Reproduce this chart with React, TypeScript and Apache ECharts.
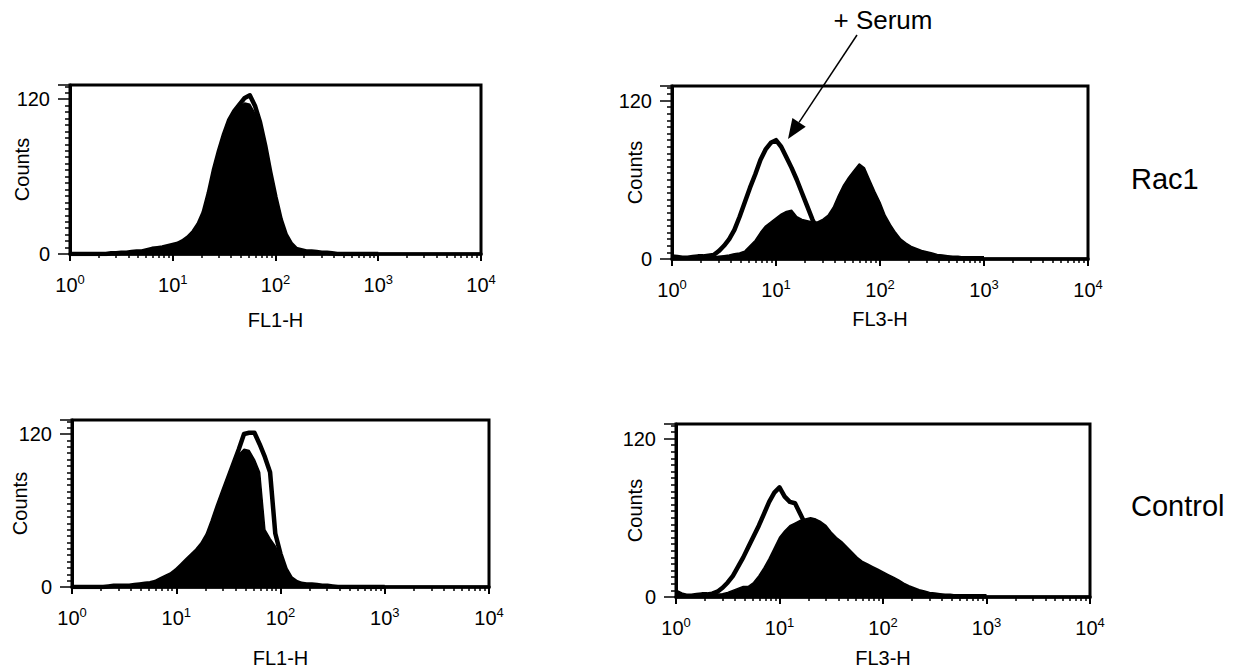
import React, { useEffect, useRef } from "react";
import * as echarts from "echarts";

// Histogram channel positions: log10 of fluorescence, 0.00 .. 3.00 in 0.05 steps
const channelLog: number[] = Array.from({ length: 61 }, (_, i) => Math.round(i * 5) / 100);

// Rac1, FL1-H
const rac1FL1Filled = [
  0, 0, 0, 0, 0, 0, 0, 0, 0.5, 0.5,
  1, 1, 1.5, 2, 2, 3, 4, 4.5, 5, 6,
  7, 8, 10, 13, 17, 23, 32, 47, 65, 80,
  93, 104, 110, 114, 117, 116, 109, 97, 80, 60,
  42, 26, 14, 8, 4, 3, 2, 2, 1.5, 1,
  1, 0.5, 0, 0, 0, 0, 0, 0, 0, 0, 0,
];
const rac1FL1Open = [
  0, 0, 0, 0, 0, 0, 0, 0, 0.5, 0.5,
  1, 1, 1.5, 2, 2, 3, 4, 4.5, 5, 6,
  7, 8, 10, 13, 17, 23, 32, 47, 65, 80,
  93, 104, 111, 116, 121, 123, 115, 102, 84, 63,
  44, 27, 15, 8, 4, 3, 2, 2, 1.5, 1,
  1, 0.5, 0, 0, 0, 0, 0, 0, 0, 0, 0,
];
// Rac1, FL3-H
const rac1FL3Filled = [
  1, 1, 0.5, 0.5, 1, 1, 1, 1.5, 1.5, 2,
  2.5, 3, 4, 4.5, 6, 10, 14, 20, 25, 28,
  31, 34, 36, 37, 32, 30, 29, 28, 28, 30,
  33, 39, 48, 56, 62, 67, 72, 69, 60, 51,
  43, 33, 26, 20, 15, 12, 9.5, 8, 6.5, 5.5,
  4.5, 3.5, 3, 2.5, 2, 2, 1.5, 1.5, 1, 1, 1,
];
const rac1FL3Open = [
  2, 1.5, 1, 1, 1.5, 2, 2, 2.5, 3, 6,
  10, 15, 22, 32, 43, 54, 64, 75, 83, 88,
  90, 85, 77, 69, 60, 50, 40, 30, 22, 16,
  11, 8, 6, 5, 4, 3.5, 3, 2.5, 2, 2,
  1.5, 1, 1, 1, 1, 1, 1, 1, 1, 1,
  1, 0.5, 0.5, 0.5, 0.5, 0.5, 0.5, 0.5, 0.5, 0.5, 0.5,
];
// Control, FL1-H
const ctrlFL1Filled = [
  0, 0, 0, 0, 0, 0, 0, 0.5, 1, 1,
  1, 1, 1.5, 2, 2.5, 3, 4, 6, 8, 10,
  13, 17, 21, 25, 29, 34, 41, 52, 64, 75,
  86, 96, 104, 108, 107, 100, 90, 45, 38, 32,
  24, 13, 7, 4, 2.5, 2, 2, 1.5, 1, 1,
  0.5, 0, 0, 0, 0, 0, 0, 0, 0, 0, 0,
];
const ctrlFL1Open = [
  0, 0, 0, 0, 0, 0, 0, 0.5, 1, 1,
  1, 1, 1.5, 2, 2.5, 3, 4, 6, 8, 10,
  13, 17, 21, 25, 29, 34, 41, 52, 64, 75,
  86, 97, 108, 120, 121, 121, 112, 102, 90, 42,
  26, 14, 7, 4, 2.5, 2, 2, 1.5, 1, 1,
  0.5, 0, 0, 0, 0, 0, 0, 0, 0, 0, 0,
];
// Control, FL3-H
const ctrlFL3Filled = [
  1, 1, 0.5, 1, 1, 1.5, 1.5, 2, 2, 2.5,
  3.5, 5, 6.5, 8, 8, 11, 16, 22, 29, 37,
  45, 50, 54, 56, 58, 59, 60, 59, 57, 54,
  49, 45, 42, 38, 34, 30, 27, 25, 23, 21,
  19, 17, 15, 13, 10.5, 8.5, 7, 5.5, 4.5, 3.5,
  3, 2.5, 2, 2, 1.5, 1.5, 1, 1, 1, 0.5, 0.5,
];
const ctrlFL3Open = [
  4, 2, 1, 1, 1.5, 2, 2, 2.5, 4, 7,
  11, 16, 23, 30, 38, 46, 54, 63, 72, 79,
  83, 76, 72, 71, 63, 55, 48, 40, 33, 27,
  22, 18, 14, 11, 9, 7, 6, 5, 4, 3.5,
  3, 2.5, 2, 2, 1.5, 1.5, 1.5, 1, 1, 1,
  1, 0.5, 0.5, 0.5, 0.5, 0.5, 0.5, 0.5, 0.5, 0.5, 0.5,
];

const xTitles = ["FL1-H", "FL3-H", "FL1-H", "FL3-H"];
const yTitle = "Counts";
const rowLabels = ["Rac1", "Control"];
const annotation = "+ Serum";
const yTicks = [0, 120];

const panels = [
  { filled: rac1FL1Filled, open: rac1FL1Open },
  { filled: rac1FL3Filled, open: rac1FL3Open },
  { filled: ctrlFL1Filled, open: ctrlFL1Open },
  { filled: ctrlFL3Filled, open: ctrlFL3Open },
];

const FONT = '"Liberation Sans", Arial, Helvetica, sans-serif';

const gridBoxes = [
  { left: 70, top: 85, width: 411, height: 169 },
  { left: 672, top: 86, width: 416, height: 173 },
  { left: 72, top: 420, width: 417, height: 167 },
  { left: 676, top: 424, width: 414, height: 173 },
];
const xNameGaps = [56, 50, 61, 51];
const yNameGaps = [38, 27, 42, 31];

function toPoints(vals: number[]) {
  return vals.map((v, i) => [Math.pow(10, channelLog[i]), v]);
}

export default function App() {
  const ref = useRef<HTMLDivElement>(null);
  useEffect(() => {
    if (!ref.current) return;
    const chart = echarts.init(ref.current, undefined, { renderer: "svg" });

    const grid = gridBoxes.map((g) => ({
      ...g,
      show: true,
      borderColor: "#000",
      borderWidth: 3,
      backgroundColor: "transparent",
    }));

    const xAxis = gridBoxes.map((_, k) => ({
      type: "log",
      logBase: 10,
      min: 1,
      max: 10000,
      gridIndex: k,
      name: xTitles[k],
      nameLocation: "middle",
      nameGap: xNameGaps[k],
      nameTextStyle: { fontSize: 20, fontFamily: FONT, color: "#000" },
      axisLine: { show: true, onZero: false, lineStyle: { color: "#000", width: 3.5 } },
      axisTick: { show: true, length: 7, lineStyle: { color: "#000", width: 2 } },
      minorTick: { show: true, splitNumber: 10, length: 4, lineStyle: { color: "#000", width: 1.5 } },
      splitLine: { show: false },
      axisLabel: {
        margin: 19,
        formatter: (v: number) => `{b|10}{e|${Math.round(Math.log10(v))}}`,
        rich: {
          b: { fontSize: 20, fontFamily: FONT, color: "#000", lineHeight: 22, verticalAlign: "bottom" },
          e: { fontSize: 13, fontFamily: FONT, color: "#000", lineHeight: 13, verticalAlign: "top" },
        },
      },
    }));

    const yAxis = gridBoxes.map((_, k) => ({
      type: "value",
      min: 0,
      max: 131,
      interval: yTicks[1] - yTicks[0],
      gridIndex: k,
      name: yTitle,
      nameLocation: "middle",
      nameGap: yNameGaps[k],
      nameMoveOverlap: false,
      nameTextStyle: { fontSize: 20, fontFamily: FONT, color: "#000" },
      axisLine: { show: true, lineStyle: { color: "#000", width: 3 } },
      axisTick: { show: true, length: 12, lineStyle: { color: "#000", width: 1.5 } },
      minorTick: { show: true, splitNumber: 24, length: 5, lineStyle: { color: "#000", width: 1.5 } },
      splitLine: { show: false },
      axisLabel: {
        margin: 20,
        fontSize: 20,
        fontFamily: FONT,
        color: "#000",
        showMaxLabel: false,
        formatter: (v: number) => (yTicks.indexOf(v) >= 0 ? String(v) : ""),
      },
    }));

    const series: any[] = [];
    panels.forEach((p, k) => {
      series.push({
        type: "line",
        name: "filled" + k,
        xAxisIndex: k,
        yAxisIndex: k,
        symbol: "none",
        data: toPoints(p.filled),
        lineStyle: { color: "#000", width: 1.5 },
        itemStyle: { color: "#000" },
        areaStyle: { color: "#000", opacity: 1 },
        z: 2,
      });
      series.push({
        type: "line",
        name: "open" + k,
        xAxisIndex: k,
        yAxisIndex: k,
        symbol: "none",
        data: toPoints(p.open),
        lineStyle: { color: "#000", width: 4.5, join: "round" },
        itemStyle: { color: "#000" },
        z: 3,
      });
    });

    // arrow geometry for the "+ Serum" annotation
    const ax0 = 857, ay0 = 35, tipX = 788, tipY = 139;
    const dx = tipX - ax0, dy = tipY - ay0;
    const len = Math.sqrt(dx * dx + dy * dy);
    const ux = dx / len, uy = dy / len;
    const headLen = 20, headHalf = 8;
    const bx = tipX - headLen * ux, by = tipY - headLen * uy;

    chart.setOption({
      animation: false,
      backgroundColor: "#fff",
      grid,
      xAxis,
      yAxis,
      series,
      graphic: [
        {
          type: "text",
          x: 883,
          y: 20,
          style: { text: annotation, fontSize: 26, fontFamily: FONT, fill: "#000", textAlign: "center", textVerticalAlign: "middle" },
        },
        {
          type: "line",
          shape: { x1: ax0, y1: ay0, x2: bx, y2: by },
          style: { stroke: "#000", lineWidth: 1.5 },
        },
        {
          type: "polygon",
          shape: {
            points: [
              [tipX, tipY],
              [bx + headHalf * -uy, by + headHalf * ux],
              [bx - headHalf * -uy, by - headHalf * ux],
            ],
          },
          style: { fill: "#000" },
        },
        {
          type: "text",
          x: 1131,
          y: 179,
          style: { text: rowLabels[0], fontSize: 29, fontFamily: FONT, fill: "#000", textAlign: "left", textVerticalAlign: "middle" },
        },
        {
          type: "text",
          x: 1131,
          y: 506,
          style: { text: rowLabels[1], fontSize: 29, fontFamily: FONT, fill: "#000", textAlign: "left", textVerticalAlign: "middle" },
        },
      ],
    });
    return () => chart.dispose();
  }, []);

  return (
    <div
      ref={ref}
      style={{ position: "fixed", left: 0, top: 0, width: 1237, height: 672, background: "#fff" }}
    />
  );
}
